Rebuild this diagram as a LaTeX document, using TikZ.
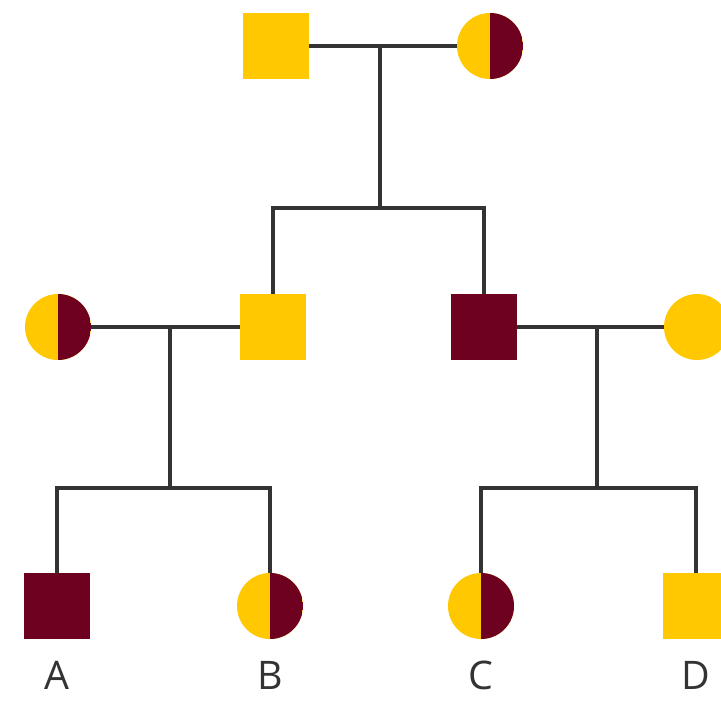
\documentclass[tikz,border=0pt]{standalone}
\usepackage{fontspec}
\setmainfont{Open Sans}
\usetikzlibrary{positioning, calc}
\definecolor{pyel}{HTML}{FFC800}
\definecolor{pmar}{HTML}{6E0020}
\definecolor{pline}{HTML}{333333}
\tikzset{
  % individuo maschio / femmina
  male/.style={rectangle, minimum size=1.65cm, inner sep=0pt, fill=pyel},
  female/.style={circle, minimum size=1.65cm, inner sep=0pt, fill=pyel},
  affected/.style={fill=pmar},
  % portatrice: mezzo cerchio scuro a destra
  carrier/.style={female, path picture={\fill[pmar] (path picture bounding box.north)
    rectangle (path picture bounding box.south east);}},
  % linee dell'albero
  rel/.style={line width=2.85pt, pline},
  lbl/.style={font=\fontsize{28}{30}\selectfont, text=pline},
}
\begin{document}
\begin{tikzpicture}[x=0.025cm, y=0.025cm]
  \useasboundingbox (0,0) rectangle (721,700);
  % prima generazione
  \node[male] (f1) at (276,654) {};
  \node[carrier] (m1) at (490,654) {};
  \coordinate (c1) at (380,654);
  \coordinate (j1) at (380,492);
  % seconda generazione
  \node[carrier] (m2) at (58,373) {};
  \node[male] (f2) at (273,373) {};
  \node[male, affected] (f3) at (484,373) {};
  \node[female] (m3) at (697,373) {};
  \coordinate (c2) at (170,373);
  \coordinate (j2) at (170,212);
  \coordinate (c3) at (597,373);
  \coordinate (j3) at (597,212);
  % terza generazione
  \node[male, affected] (a) at (57,94) {};
  \node[carrier] (b) at (270,94) {};
  \node[carrier] (c) at (481,94) {};
  \node[male] (d) at (696,94) {};
  \foreach \n/\t in {a/A, b/B, c/C, d/D} { \node[lbl] (l\n) at ($(\n)+(0,-69)$) {\t}; }
  % unioni e discendenze
  \draw[rel] (f1) -- (m1);
  \draw[rel] (c1) -- (j1);
  \draw[rel] (f2.north) -- (f2.north |- j1) -- (f3.north |- j1) -- (f3.north);
  \draw[rel] (m2) -- (f2);
  \draw[rel] (f3) -- (m3);
  \draw[rel] (c2) -- (j2);
  \draw[rel] (c3) -- (j3);
  \draw[rel] (a.north) -- (a.north |- j2) -- (b.north |- j2) -- (b.north);
  \draw[rel] (c.north) -- (c.north |- j3) -- (d.north |- j3) -- (d.north);
\end{tikzpicture}
\end{document}
